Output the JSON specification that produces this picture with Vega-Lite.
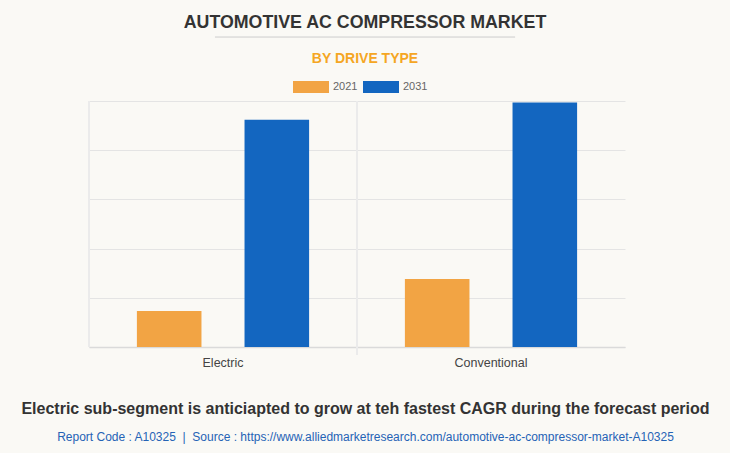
{
  "$schema": "https://vega.github.io/schema/vega-lite/v6.json",
  "autosize": "none",
  "width": 545,
  "height": 246,
  "padding": {"left": 80, "top": 101, "right": 105, "bottom": 106},
  "background": "#FAF9F5",
  "title": {
    "text": "AUTOMOTIVE AC COMPRESSOR MARKET",
    "subtitle": "BY DRIVE TYPE",
    "anchor": "middle",
    "frame": "group",
    "dx": 12.5,
    "offset": -29.5,
    "font": "Liberation Sans",
    "fontSize": 17.8,
    "fontWeight": "bold",
    "color": "#333333",
    "subtitleFont": "Liberation Sans",
    "subtitleFontSize": 14,
    "subtitleFontWeight": "bold",
    "subtitleColor": "#F5A623",
    "subtitlePadding": 20.5
  },
  "data": {
    "values": [
      {"DriveType": "Electric", "Year": "2021", "Value": 0.73},
      {"DriveType": "Electric", "Year": "2031", "Value": 4.62},
      {"DriveType": "Conventional", "Year": "2021", "Value": 1.38},
      {"DriveType": "Conventional", "Year": "2031", "Value": 4.97}
    ]
  },
  "layer": [
    {
      "mark": {"type": "bar"},
      "encoding": {
        "x": {
          "field": "DriveType",
          "type": "nominal",
          "sort": ["Electric", "Conventional"],
          "scale": {"range": [9, 545], "paddingInner": 0, "paddingOuter": 0},
          "axis": {
            "bandPosition": 0.5,
            "title": "Electric sub-segment is anticiapted to grow at teh fastest CAGR during the forecast period",
            "titleFont": "Liberation Sans",
            "titleFontSize": 16,
            "titleFontWeight": "bold",
            "titleColor": "#333333",
            "titleX": 285,
            "titleY": 66,
            "titleAlign": "center",
            "titleBaseline": "alphabetic",
            "labelAngle": 0,
            "labelAlign": "center",
            "labelFont": "Liberation Sans",
            "labelFontSize": 12.5,
            "labelColor": "#444444",
            "labelPadding": 9,
            "ticks": false,
            "grid": false,
            "domainColor": "#dadada",
            "domainWidth": 1.5
          }
        },
        "xOffset": {
          "field": "Year",
          "type": "nominal",
          "scale": {"paddingInner": 0.4, "paddingOuter": 0.445}
        },
        "y": {
          "field": "Value",
          "type": "quantitative",
          "scale": {"domain": [0, 5], "nice": false},
          "axis": {
            "values": [0, 1, 2, 3, 4, 5],
            "labels": false,
            "ticks": false,
            "domain": false,
            "grid": true,
            "gridColor": "#e4e4e4",
            "gridWidth": 1,
            "title": "Report Code : A10325 \u00a0|\u00a0 Source : https://www.alliedmarketresearch.com/automotive-ac-compressor-market-A10325",
            "titleAngle": 0,
            "titleX": 285,
            "titleY": 339,
            "titleAlign": "center",
            "titleBaseline": "alphabetic",
            "titleFont": "Liberation Sans",
            "titleFontSize": 12,
            "titleFontWeight": "normal",
            "titleColor": "#2563B5"
          }
        },
        "color": {
          "field": "Year",
          "type": "nominal",
          "scale": {"domain": ["2021", "2031"], "range": ["#F2A444", "#1366C0"]},
          "legend": {
            "orient": "none",
            "legendX": 213,
            "legendY": -32,
            "direction": "horizontal",
            "title": null,
            "padding": 0,
            "symbolType": "M-1,-0.333H1V0.333H-1Z",
            "symbolSize": 1296,
            "symbolStrokeWidth": 0,
            "labelFont": "Liberation Sans",
            "labelFontSize": 11,
            "labelColor": "#666666",
            "labelOffset": 4,
            "columnPadding": 5
          }
        }
      }
    },
    {
      "data": {"values": [{}]},
      "mark": {"type": "rule", "color": "#ebebeb", "strokeWidth": 2},
      "encoding": {
        "x": {"datum": "Electric", "type": "nominal", "bandPosition": 0},
        "y": {"datum": 0, "type": "quantitative"},
        "y2": {"datum": 5}
      }
    },
    {
      "data": {"values": [{}]},
      "mark": {"type": "rule", "color": "#ebebeb", "strokeWidth": 2},
      "encoding": {
        "x": {"datum": "Conventional", "type": "nominal", "bandPosition": 0},
        "y": {"datum": -0.163, "type": "quantitative"},
        "y2": {"datum": 5}
      }
    },
    {
      "data": {"values": [{}]},
      "mark": {"type": "rule", "color": "#cccccc", "strokeWidth": 1},
      "encoding": {
        "x": {"datum": "Electric", "type": "nominal", "bandPosition": 0.47},
        "x2": {"datum": "Conventional", "bandPosition": 0.59},
        "y": {"datum": 6.3, "type": "quantitative"}
      }
    }
  ],
  "config": {"view": {"stroke": null}}
}
